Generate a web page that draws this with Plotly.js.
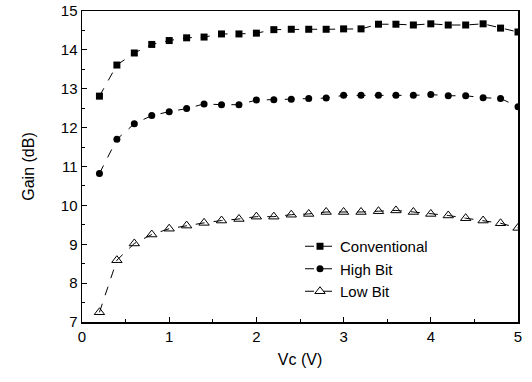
<!DOCTYPE html>
<html><head><meta charset="utf-8">
<script src="https://cdn.plot.ly/plotly-3.0.1.min.js"></script>
<style>html,body{margin:0;padding:0;background:#fff}</style>
</head><body><div id="chart" style="width:532px;height:382px"></div>
<script>
const vc = [0.2,0.4,0.6,0.8,1.0,1.2,1.4,1.6,1.8,2.0,2.2,2.4,2.6,2.8,3.0,3.2,3.4,3.6,3.8,4.0,4.2,4.4,4.6,4.8,5.0];
const conventional = [12.81,13.61,13.92,14.14,14.24,14.31,14.33,14.41,14.41,14.43,14.52,14.53,14.53,14.53,14.54,14.54,14.66,14.66,14.64,14.67,14.64,14.64,14.67,14.56,14.46];
const highBit = [10.82,11.70,12.10,12.31,12.41,12.49,12.61,12.59,12.59,12.71,12.72,12.73,12.75,12.76,12.83,12.83,12.83,12.83,12.83,12.85,12.82,12.82,12.77,12.75,12.54];
const lowBit = [7.25,8.59,9.02,9.25,9.40,9.48,9.55,9.61,9.65,9.71,9.71,9.76,9.78,9.83,9.83,9.83,9.85,9.87,9.83,9.78,9.74,9.67,9.61,9.54,9.42];
const names = ["Conventional","High Bit","Low Bit"];

const line = {color:'#000', width:1, dash:'dash'};
const traces = [
  {x:vc, y:conventional, name:names[0], mode:'lines+markers', line:line,
   marker:{symbol:'square', size:7, color:'#000'}},
  {x:vc, y:highBit, name:names[1], mode:'lines+markers', line:line,
   marker:{symbol:'circle', size:7, color:'#000'}},
  {x:vc, y:lowBit, name:names[2], mode:'lines+markers', line:line,
   marker:{symbol:'triangle-up-open', size:9, color:'#000', line:{width:1}}}
];
const axisCommon = {
  showgrid:false, zeroline:false, showline:true, linecolor:'#000', linewidth:1.5,
  mirror:true, ticks:'inside', ticklen:5, tickcolor:'#000',
  tickfont:{family:'Liberation Sans, Arial, sans-serif', size:15, color:'#000'},
  minor:{ticks:'inside', ticklen:3, tickcolor:'#000', dtick:0.5}
};
const layout = {
  width:532, height:382,
  margin:{l:82, r:14, t:11, b:60},
  paper_bgcolor:'#fff', plot_bgcolor:'#fff',
  font:{family:'Liberation Sans, Arial, sans-serif', color:'#000'},
  showlegend:true,
  legend:{x:0.5, y:0.045, xanchor:'left', yanchor:'bottom', bgcolor:'rgba(0,0,0,0)',
    font:{size:15, family:'Liberation Sans, Arial, sans-serif'}, tracegroupgap:0, itemwidth:30},
  xaxis:Object.assign({}, axisCommon, {range:[0,5], dtick:1, tick0:0,
    title:{text:'Vc (V)', font:{size:16}, standoff:10}}),
  yaxis:Object.assign({}, axisCommon, {range:[7,15], dtick:1, tick0:7,
    title:{text:'Gain (dB)', font:{size:16}, standoff:22}})
};
Plotly.newPlot('chart', traces, layout, {displayModeBar:false, staticPlot:true});
</script></body></html>
